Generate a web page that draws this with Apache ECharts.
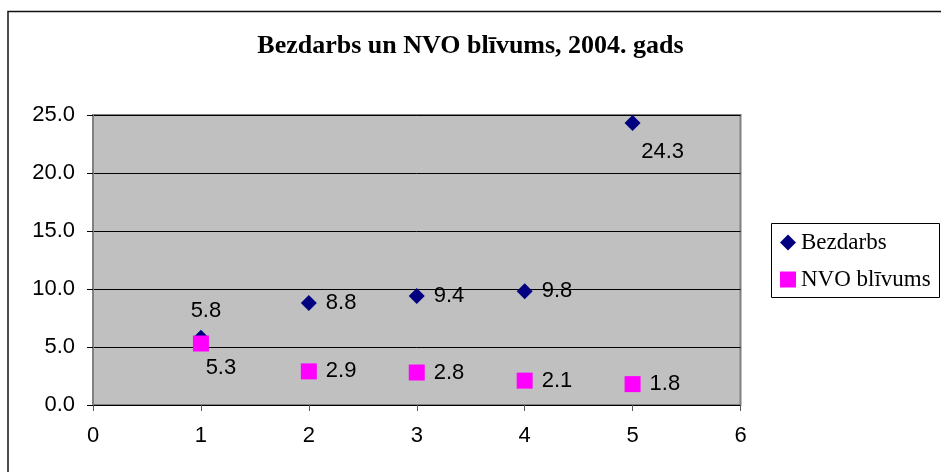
<!DOCTYPE html>
<html><head><meta charset="utf-8">
<script src="https://cdn.jsdelivr.net/npm/echarts@6/dist/echarts.min.js"></script>
<style>html,body{margin:0;padding:0;background:#fff}#c{width:941px;height:472px}</style>
</head><body><div id="c"></div>
<script>
const title = 'Bezdarbs un NVO blīvums, 2004. gads';
const xValues = [1, 2, 3, 4, 5];
const bezdarbs = [5.8, 8.8, 9.4, 9.8, 24.3];
const nvo = [5.3, 2.9, 2.8, 2.1, 1.8];
const seriesNames = ['Bezdarbs', 'NVO blīvums'];

// label placement styles (offsets from the marker centre)
const bezLabelStyle = [['center', [5, -27]], ['left', [17, 0]], ['left', [17, 0]], ['left', [17, 0]], ['center', [30, 29]]];
const nvoLabelStyle = [['center', [20, 24]], ['left', [17, 0]], ['left', [17, 0]], ['left', [17, 0]], ['left', [17, 0]]];

function labelFor(st) {
  return {show: true, position: 'inside', align: st[0], verticalAlign: 'middle', offset: st[1],
    fontFamily: 'Liberation Sans', fontSize: 22, color: '#000', textBorderWidth: 0,
    formatter: p => p.value[1].toFixed(1)};
}

const chart = echarts.init(document.getElementById('c'));
chart.setOption({
  animation: false,
  backgroundColor: '#fff',
  graphic: [
    {type: 'rect', shape: {x: 8, y: 11.5, width: 1200, height: 1000},
      style: {fill: 'none', stroke: '#111', lineWidth: 1.5}, z: -1},
    {type: 'rect', shape: {x: 771.5, y: 223.5, width: 168, height: 74},
      style: {fill: '#fff', stroke: '#000', lineWidth: 1}, z: 0}
  ],
  title: {text: title, left: 'center', top: 28,
    textStyle: {fontFamily: 'Liberation Serif', fontSize: 26, fontWeight: 'bold', color: '#000'}},
  legend: {orient: 'vertical', left: 771, top: 223, z: 10,
    padding: [8, 8, 6, 9], itemGap: 14, itemWidth: 16, itemHeight: 16,
    borderWidth: 0,
    textStyle: {fontFamily: 'Liberation Serif', fontSize: 23, color: '#000'},
    data: [{name: seriesNames[0], icon: 'diamond'}, {name: seriesNames[1], icon: 'rect'}]},
  grid: {left: 93, right: 200.5, top: 115, bottom: 67, show: true,
    backgroundColor: '#c0c0c0', borderColor: '#808080', borderWidth: 2},
  xAxis: {type: 'value', min: 0, max: 6, interval: 1,
    axisLine: {lineStyle: {color: '#000', width: 1}},
    axisTick: {show: true, length: 6, lineStyle: {color: '#555'}},
    splitLine: {show: false},
    axisLabel: {fontFamily: 'Liberation Sans', fontSize: 22, color: '#000', margin: 20}},
  yAxis: {type: 'value', min: 0, max: 25, interval: 5,
    axisLine: {show: true, lineStyle: {color: '#808080', width: 2}},
    axisTick: {show: true, length: 6, lineStyle: {color: '#000'}},
    splitLine: {show: true, lineStyle: {color: '#000', width: 1}},
    axisLabel: {fontFamily: 'Liberation Sans', fontSize: 22, color: '#000', margin: 18,
      formatter: v => v.toFixed(1)}},
  series: [
    {name: seriesNames[0], type: 'scatter', symbol: 'diamond', symbolSize: 16,
      itemStyle: {color: '#000080', opacity: 1},
      data: xValues.map((x, i) => ({value: [x, bezdarbs[i]], label: labelFor(bezLabelStyle[i])}))},
    {name: seriesNames[1], type: 'scatter', symbol: 'rect', symbolSize: 16,
      itemStyle: {color: '#ff00ff', opacity: 1},
      data: xValues.map((x, i) => ({value: [x, nvo[i]], label: labelFor(nvoLabelStyle[i])}))}
  ]
});
</script></body></html>
